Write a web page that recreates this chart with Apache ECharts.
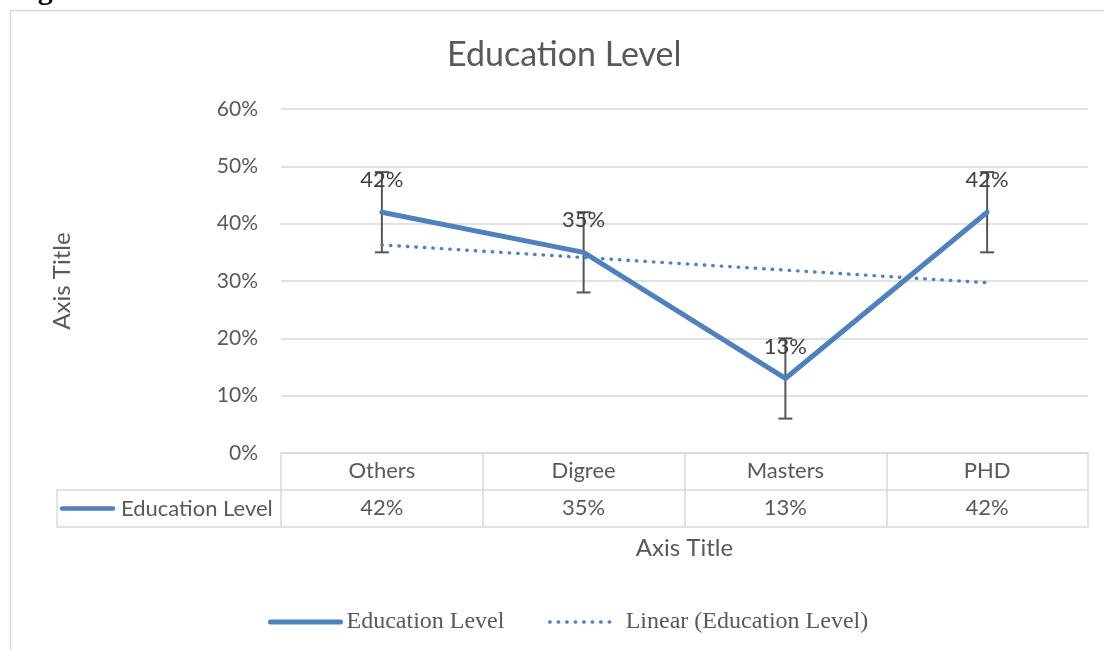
<!DOCTYPE html>
<html>
<head>
<meta charset="utf-8">
<script src="https://cdn.jsdelivr.net/npm/echarts@6/dist/echarts.min.js"></script>
<style>
  html, body { margin: 0; padding: 0; background: #fff; }
  #chart { width: 1104px; height: 650px; }
</style>
</head>
<body>
<div id="chart"></div>
<script>
// Share of respondents per education level
const categories = ['Others', 'Digree', 'Masters', 'PHD'];
const values = [0.42, 0.35, 0.13, 0.42];
// Error bar half-width per point
const errorMargin = [0.07, 0.07, 0.07, 0.07];
// Linear trend line of the series
const trendValues = [0.363, 0.341, 0.319, 0.297];
const seriesName = 'Education Level';
const trendName = 'Linear (Education Level)';

const BLUE = '#4f81bd';
const GREY_TEXT = '#595959';
const GRID_LINE = '#d9d9d9';
const SANS = 'Lato, "Open Sans", sans-serif';
const SERIF = '"Liberation Serif", "DejaVu Serif", serif';

const pct = v => Math.round(v * 100) + '%';

const chart = echarts.init(document.getElementById('chart'), null, { renderer: 'canvas' });

const option = {
  animation: false,
  backgroundColor: '#fff',
  title: {
    text: 'Education Level',
    left: 442,
    top: 33,
    textStyle: { fontFamily: SANS, fontSize: 34, fontWeight: 'normal', color: GREY_TEXT }
  },
  grid: { left: 281, right: 16, top: 109, bottom: 197, containLabel: false },
  legend: [
    {
      data: [seriesName],
      left: 263, top: 605,
      itemWidth: 70, itemHeight: 20,
      itemStyle: { opacity: 0 },
      lineStyle: { width: 5, cap: 'round' },
      textStyle: { fontFamily: SERIF, fontSize: 24, color: GREY_TEXT, padding: [0, 0, 0, 1] }
    },
    {
      data: [trendName],
      left: 543, top: 605,
      itemWidth: 62, itemHeight: 20,
      itemStyle: { opacity: 0 },
      lineStyle: { width: 3.4, cap: 'round' },
      textStyle: { fontFamily: SERIF, fontSize: 24, color: GREY_TEXT, padding: [0, 0, 0, 9] }
    }
  ],
  xAxis: [
    {
      type: 'category',
      data: categories,
      position: 'bottom',
      boundaryGap: true,
      axisLine: { show: true, lineStyle: { color: GRID_LINE, width: 1.5 } },
      axisTick: { show: true, interval: 0, length: 74, lineStyle: { color: GRID_LINE, width: 1.5 } },
      axisLabel: { interval: 0, margin: 7, fontFamily: SANS, fontSize: 22, color: GREY_TEXT }
    },
    {
      type: 'category',
      data: categories,
      position: 'bottom',
      offset: 37,
      boundaryGap: true,
      axisLine: { show: true, lineStyle: { color: GRID_LINE, width: 1.5 } },
      axisTick: { show: false },
      axisLabel: {
        interval: 0, margin: 7, fontFamily: SANS, fontSize: 22, color: GREY_TEXT,
        formatter: (v, i) => pct(values[i])
      },
      name: 'Axis Title',
      nameLocation: 'middle',
      nameGap: 46,
      nameTextStyle: { fontFamily: SANS, fontSize: 24, color: GREY_TEXT }
    }
  ],
  yAxis: {
    type: 'value',
    min: 0, max: 0.6, interval: 0.1,
    axisLine: { show: false },
    axisTick: { show: false },
    axisLabel: { margin: 23, fontFamily: SANS, fontSize: 21, color: GREY_TEXT, formatter: pct },
    splitLine: { lineStyle: { color: GRID_LINE, width: 1.5 } },
    name: 'Axis Title',
    nameLocation: 'middle',
    nameRotate: 90,
    nameGap: 207,
    nameTextStyle: { fontFamily: SANS, fontSize: 24, color: GREY_TEXT }
  },
  series: [
    {
      name: 'errors',
      type: 'custom',
      z: 1,
      silent: true,
      data: categories.map((c, i) => [i, values[i] - errorMargin[i], values[i] + errorMargin[i]]),
      encode: { x: 0, y: [1, 2] },
      renderItem: (params, api) => {
        const lo = api.coord([api.value(0), api.value(1)]);
        const hi = api.coord([api.value(0), api.value(2)]);
        const cap = 7;
        const style = { stroke: '#555555', lineWidth: 2 };
        return {
          type: 'group',
          children: [
            { type: 'line', shape: { x1: lo[0], y1: lo[1], x2: hi[0], y2: hi[1] }, style },
            { type: 'line', shape: { x1: lo[0] - cap, y1: lo[1], x2: lo[0] + cap, y2: lo[1] }, style },
            { type: 'line', shape: { x1: hi[0] - cap, y1: hi[1], x2: hi[0] + cap, y2: hi[1] }, style }
          ]
        };
      }
    },
    {
      name: trendName,
      type: 'line',
      z: 2,
      data: trendValues,
      showSymbol: false,
      symbol: 'none',
      itemStyle: { color: BLUE },
      lineStyle: { color: BLUE, width: 3.4, type: [0.5, 8], cap: 'round' }
    },
    {
      name: seriesName,
      type: 'line',
      z: 3,
      data: values,
      symbol: 'circle',
      symbolSize: 0,
      showSymbol: true,
      itemStyle: { color: BLUE },
      lineStyle: { color: BLUE, width: 5, cap: 'round', join: 'round' },
      label: {
        show: true,
        position: 'top',
        distance: 21,
        formatter: p => pct(p.value),
        fontFamily: SANS, fontSize: 22, color: '#404040'
      }
    }
  ]
};

chart.setOption(option);

// Chart frame, legend cell of the data table and its closing row line
const x0 = chart.convertToPixel({ xAxisIndex: 0 }, 0);
const step = chart.convertToPixel({ xAxisIndex: 0 }, 1) - x0;
const left = x0 - step / 2;
const right = left + step * categories.length;
const zeroY = chart.convertToPixel({ yAxisIndex: 0 }, 0);
const row1 = zeroY + 37;
const row2 = zeroY + 74;
const cellLeft = 57;
const lineStroke = { stroke: GRID_LINE, lineWidth: 1.5 };

chart.setOption({
  graphic: [
    {
      type: 'text', left: 11, top: -24, silent: true,
      style: { text: 'Figure', font: 'bold 30px ' + SERIF, fill: '#000' }
    },
    {
      type: 'rect', silent: true,
      shape: { x: 10.5, y: 10.5, width: 1200, height: 800 },
      style: { fill: 'none', stroke: GRID_LINE, lineWidth: 1.5 }
    },
    {
      type: 'polyline', silent: true,
      shape: { points: [[left, row1], [cellLeft, row1], [cellLeft, row2], [right, row2]] },
      style: Object.assign({ fill: 'none' }, lineStroke)
    },
    {
      type: 'line', silent: true,
      shape: { x1: cellLeft + 5, y1: (row1 + row2) / 2, x2: cellLeft + 56, y2: (row1 + row2) / 2 },
      style: { stroke: BLUE, lineWidth: 4.5, lineCap: 'round' }
    },
    {
      type: 'text', silent: true,
      x: cellLeft + 64, y: (row1 + row2) / 2,
      style: { text: seriesName, font: '22px ' + SANS, fill: GREY_TEXT, verticalAlign: 'middle' }
    }
  ]
});
</script>
</body>
</html>
